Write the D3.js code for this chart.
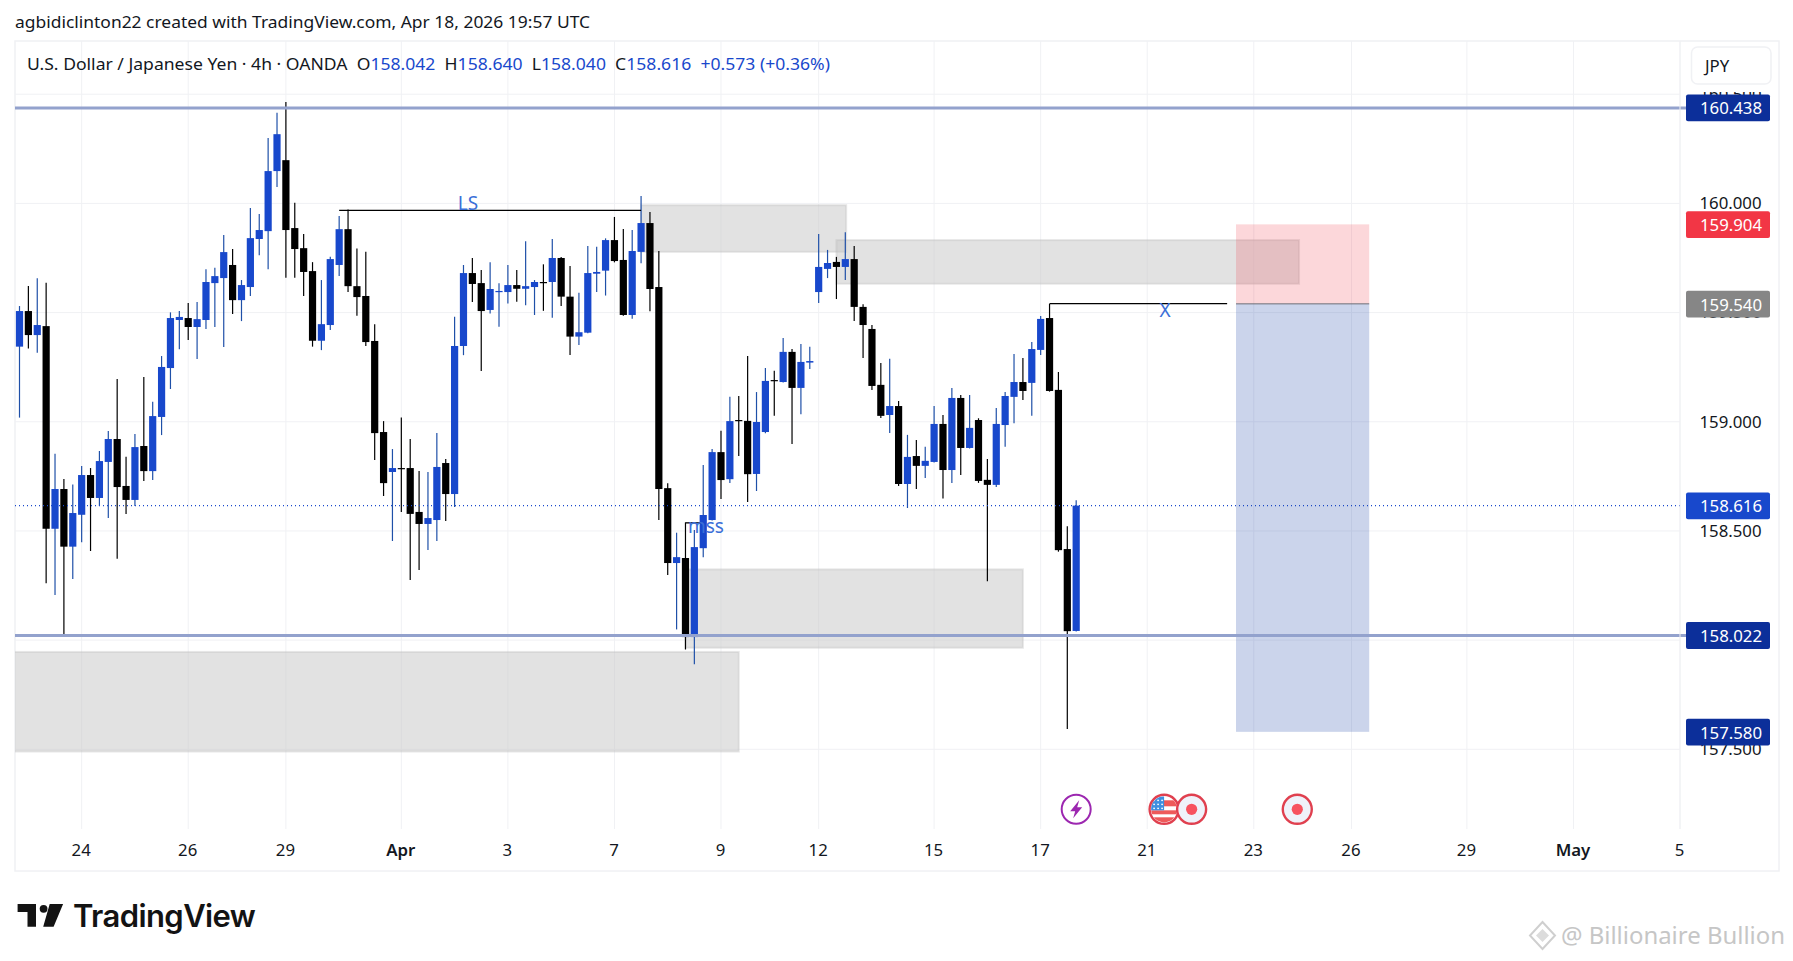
<!DOCTYPE html>
<html><head><meta charset="utf-8">
<script src="https://cdn.jsdelivr.net/npm/d3@7/dist/d3.min.js"></script>
<style>html,body{margin:0;padding:0;background:#fff;overflow:hidden}svg{display:block}text{font-family:"Noto Sans",sans-serif}</style>
</head><body><svg id="c" width="1793" height="961"></svg>
<script>
const opens=[159.344,159.507,159.397,159.438,158.510,158.692,158.428,158.574,158.756,158.651,158.816,158.921,158.706,158.642,158.889,158.774,159.022,159.246,159.466,159.475,159.434,159.466,159.635,159.658,159.718,159.557,159.617,159.837,159.873,160.148,160.198,159.887,159.795,159.690,159.371,159.443,159.718,159.882,159.621,159.576,159.370,158.953,158.770,158.788,158.788,158.587,158.532,158.550,158.811,158.669,159.347,159.681,159.635,159.512,159.594,159.594,159.626,159.609,159.617,159.640,159.640,159.750,159.573,159.390,159.408,159.678,159.692,159.832,159.741,159.489,159.778,159.910,159.617,158.696,158.353,158.376,158.014,158.421,158.550,158.861,158.737,159.008,159.004,158.761,158.953,159.191,159.182,159.320,159.155,159.271,159.594,159.700,159.732,159.709,159.745,159.526,159.425,159.169,159.031,159.072,158.715,158.843,158.798,158.816,158.990,158.779,159.109,158.880,159.008,158.734,158.711,158.985,159.114,159.182,159.178,159.329,159.475,159.146,158.417,158.042];
const highs=[159.530,159.622,159.657,159.637,158.854,158.738,158.713,158.797,158.788,158.866,158.958,159.196,158.840,158.944,159.205,159.092,159.301,159.501,159.507,159.544,159.548,159.699,159.705,159.855,159.791,159.649,159.979,159.951,160.299,160.415,160.464,160.003,159.860,159.731,159.649,159.756,159.942,159.972,159.794,159.779,159.447,159.003,158.875,159.019,158.921,158.774,158.770,158.948,158.829,159.481,159.718,159.750,159.695,159.731,159.634,159.718,159.695,159.827,159.649,159.721,159.837,159.755,159.713,159.591,159.805,159.802,159.840,159.938,159.883,159.878,160.034,159.961,159.782,158.718,158.492,158.539,158.504,158.802,158.875,158.959,159.115,159.118,159.301,159.136,159.246,159.234,159.384,159.333,159.356,159.344,159.860,159.787,159.755,159.868,159.805,159.538,159.443,159.269,159.288,159.095,158.940,158.917,158.886,159.072,159.031,159.155,159.123,159.123,159.016,158.830,159.063,159.136,159.310,159.292,159.365,159.484,159.540,159.228,158.522,158.640];
const lows=[159.019,159.335,159.316,158.260,158.207,158.023,158.280,158.448,158.408,158.614,158.559,158.373,158.578,158.614,158.729,158.733,158.939,159.150,159.332,159.374,159.287,159.425,159.434,159.342,159.493,159.461,159.576,159.763,159.699,160.075,159.660,159.660,159.576,159.344,159.328,159.420,159.667,159.594,159.486,159.347,158.825,158.660,158.454,158.587,158.275,158.321,158.413,158.454,158.545,158.610,159.305,159.548,159.232,159.496,159.435,159.542,159.550,159.534,159.489,159.508,159.476,159.530,159.306,159.352,159.405,159.594,159.578,159.730,159.486,159.472,159.726,159.506,158.550,158.298,158.049,157.957,157.890,158.380,158.548,158.646,158.719,158.843,158.632,158.683,158.947,159.027,159.180,158.898,159.034,159.242,159.544,159.658,159.562,159.649,159.462,159.292,159.146,159.017,158.949,158.706,158.605,158.692,158.743,158.813,158.648,158.720,158.756,158.877,158.720,158.270,158.701,158.885,158.993,159.100,159.027,159.306,159.138,158.405,157.593,158.040];
const closes=[159.507,159.397,159.443,158.510,158.692,158.428,158.582,158.756,158.651,158.820,158.921,158.701,158.642,158.884,158.774,159.026,159.251,159.475,159.480,159.434,159.470,159.640,159.667,159.777,159.557,159.626,159.841,159.878,160.148,160.317,159.878,159.791,159.686,159.371,159.447,159.745,159.882,159.621,159.571,159.365,158.948,158.719,158.788,158.784,158.578,158.532,158.559,158.793,158.669,159.347,159.681,159.631,159.507,159.608,159.599,159.626,159.609,159.621,159.640,159.635,159.750,159.573,159.390,159.410,159.681,159.686,159.832,159.736,159.489,159.782,159.910,159.608,158.692,158.353,158.380,158.014,158.426,158.573,158.861,158.733,159.003,159.005,158.760,158.999,159.187,159.187,159.320,159.155,159.274,159.278,159.709,159.727,159.709,159.745,159.526,159.443,159.164,159.027,159.072,158.715,158.839,158.798,158.821,158.990,158.779,159.109,158.880,158.972,158.729,158.711,158.990,159.118,159.182,159.141,159.333,159.471,159.141,158.412,158.041,158.616];
const axisPrices=[160.5,160,159.5,159,158.5,158,157.5];
const timeBars=[7,19,30,43,55,67,79,90,103,115,127,139,150,163,175,187];
const timeLabels=["24","26","29","Apr","3","7","9","12","15","17","21","23","26","29","May","5"];
const levels=[160.438,158.022];
const lastPrice=158.616;
const zones=[[-2,81,157.946,157.490],[75,113,158.324,157.965],[70,93.1,159.992,159.778],[92,144.1,159.832,159.632]];
const riskTop=159.904, entry=159.540, target=157.580, toolBars=[137,152];
const priceTags=[[160.438,"#0c2f9a"],[159.904,"#f23645"],[159.540,"#868686"],[158.616,"#1848cc"],[158.022,"#0c2f9a"],[157.580,"#0c2f9a"]];
const eventBars=[119,128.9,132,143.9];
const eventKinds=["bolt","us","dot","dot"];

const BLUE="#1848cc",TEXTBLUE="#3b6fd8",GRID="#f0f1f4";
const L=15,R=1680,T=41,B=829,FR=1779,FB=871;
const x=d3.scaleLinear().domain([0,187]).range([19.5,1680]);
const y=d3.scaleLinear().domain([160,157.5]).range([203.4,749.3]);
const svg=d3.select("#c");
const defs=svg.append("defs");
defs.append("clipPath").attr("id","plot").append("rect").attr("x",L).attr("y",T).attr("width",R-L).attr("height",B-T);
defs.append("clipPath").attr("id","raxis").append("rect").attr("x",R).attr("y",92).attr("width",100).attr("height",700);
defs.append("clipPath").attr("id","flag").append("circle").attr("r",13);
svg.append("rect").attr("x",L).attr("y",T).attr("width",FR-L).attr("height",FB-T).attr("fill","#fff").attr("stroke",GRID).attr("stroke-width",1.5);
svg.append("text").attr("x",15).attr("y",28).attr("font-size",16.6).attr("textLength",575).attr("lengthAdjust","spacingAndGlyphs").attr("fill","#131722").text("agbidiclinton22 created with TradingView.com, Apr 18, 2026 19:57 UTC");

// grid
const grid=svg.append("g");
grid.selectAll(".h").data(axisPrices).join("line").attr("x1",L).attr("x2",R).attr("y1",d=>y(d)).attr("y2",d=>y(d)).attr("stroke",GRID);
grid.selectAll(".v").data(timeBars).join("line").attr("x1",d=>x(d)).attr("x2",d=>x(d)).attr("y1",T).attr("y2",B).attr("stroke",GRID);

const p=svg.append("g").attr("clip-path","url(#plot)");
// horizontal levels (continue slightly past the plot)
svg.append("g").selectAll("line").data(levels).join("line").attr("x1",L).attr("x2",1686).attr("y1",d=>y(d)+.3).attr("y2",d=>y(d)+.3).attr("stroke","#93a2cd").attr("stroke-width",3);
// zones
p.selectAll(".zone").data(zones).join("rect").attr("x",d=>x(d[0])).attr("width",d=>x(d[1])-x(d[0])).attr("y",d=>y(d[2])).attr("height",d=>y(d[3])-y(d[2])).attr("fill","rgba(200,200,200,.52)").attr("stroke","rgba(190,190,190,.35)").attr("stroke-width",2);
// candles
const idx=d3.range(opens.length);
const col=i=>closes[i]>=opens[i]?BLUE:"#000";
p.selectAll(".w").data(idx).join("line").attr("x1",i=>x(i)).attr("x2",i=>x(i)).attr("y1",i=>y(highs[i])).attr("y2",i=>y(lows[i])).attr("stroke",i=>closes[i]>=opens[i]?"#1f50a8":"#000").attr("stroke-width",1.2);
p.selectAll(".b").data(idx).join("rect").attr("x",i=>x(i)-3.6).attr("width",7.2).attr("y",i=>y(Math.max(opens[i],closes[i]))).attr("height",i=>Math.max(1.2,Math.abs(y(opens[i])-y(closes[i])))).attr("fill",col);
// dotted price
p.append("line").attr("x1",L).attr("x2",R).attr("y1",y(lastPrice)).attr("y2",y(lastPrice)).attr("stroke",BLUE).attr("stroke-dasharray","1 3").attr("stroke-width",1.1);
// position tool
p.append("rect").attr("x",x(toolBars[0])).attr("width",x(toolBars[1])-x(toolBars[0])).attr("y",y(riskTop)).attr("height",y(entry)-y(riskTop)).attr("fill","rgba(242,54,69,.2)");
p.append("rect").attr("x",x(toolBars[0])).attr("width",x(toolBars[1])-x(toolBars[0])).attr("y",y(entry)).attr("height",y(target)-y(entry)).attr("fill","rgba(30,70,170,.23)");
p.append("line").attr("x1",x(toolBars[0])).attr("x2",x(toolBars[1])).attr("y1",y(entry)).attr("y2",y(entry)).attr("stroke","#6d6f78").attr("stroke-width",1);
// trend lines and labels
const seg=(a,b,v,w)=>p.append("line").attr("x1",x(a)).attr("x2",x(b)).attr("y1",y(v)).attr("y2",y(v)).attr("stroke","#000").attr("stroke-width",w);
seg(36,70,159.968,1.4);seg(116,136,159.541,1.4);seg(75,76.8,158.537,1.3);
const lab=(a,v,t,s)=>p.append("text").attr("x",x(a)).attr("y",y(v)).attr("text-anchor","middle").attr("dominant-baseline","middle").attr("font-size",s).attr("fill",TEXTBLUE).text(t);
lab(50.5,159.995,"LS",19);lab(129,159.502,"X",19);lab(77.3,158.512,"mss",19);

// axes
const ra=d3.axisRight(y).tickValues(axisPrices).tickSize(0).tickPadding(0).tickFormat(d3.format(".3f"));
const rg=svg.append("g").attr("transform","translate(1730.5,0)").call(ra);
rg.select(".domain").remove();
rg.selectAll("text").attr("x",0).attr("text-anchor","middle").attr("font-size",16.8).attr("fill","#131722").attr("font-family","Noto Sans");
const gw=svg.append("g").attr("clip-path","url(#raxis)");gw.node().appendChild(rg.node());
const ba=d3.axisBottom(x).tickValues(timeBars).tickSize(0).tickPadding(0).tickFormat((d,i)=>timeLabels[i]);
const bg=svg.append("g").attr("transform","translate(-1,844)").call(ba);
bg.select(".domain").remove();
bg.selectAll("text").attr("font-size",16.8).attr("fill","#131722").attr("font-family","Noto Sans").attr("font-weight",(d,i)=>/[A-Z]/.test(timeLabels[i])?600:400);
svg.append("line").attr("x1",R).attr("x2",R).attr("y1",T).attr("y2",B).attr("stroke",GRID);
// price tags
const tags=svg.append("g").selectAll("g").data(priceTags).join("g").attr("transform",d=>`translate(1686,${y(d[0])-13.2})`);
tags.append("rect").attr("width",84).attr("height",26.8).attr("rx",2).attr("fill",d=>d[1]);
tags.append("text").attr("x",45).attr("y",13.4).attr("text-anchor","middle").attr("dominant-baseline","central").attr("font-size",16.8).attr("fill","#fff").text(d=>d[0].toFixed(3));
// JPY
svg.append("rect").attr("x",1691.5).attr("y",47).attr("width",79.5).attr("height",37).attr("rx",6).attr("fill","#fff").attr("stroke","#f0f1f4").attr("stroke-width",1.5);
svg.append("text").attr("x",1705).attr("y",65.5).attr("dominant-baseline","central").attr("font-size",16.8).attr("fill","#131722").text("JPY");

// header legend
const h=svg.append("text").attr("x",27).attr("y",70).attr("font-size",16.6).attr("textLength",803).attr("lengthAdjust","spacingAndGlyphs").attr("fill","#131722").style("white-space","pre");
[["U.S. Dollar / Japanese Yen · 4h · OANDA",0],["  O",0],["158.042",1],["  H",0],["158.640",1],["  L",0],["158.040",1],["  C",0],["158.616",1],["  +0.573 (+0.36%)",1]].forEach(d=>h.append("tspan").style("white-space","pre").attr("fill",d[1]?BLUE:"#131722").text(d[0]));

// events
const ev=svg.append("g").selectAll("g").data(eventBars).join("g").attr("transform",d=>`translate(${x(d)},809.3)`);
ev.each(function(d,i){
  const g=d3.select(this),k=eventKinds[i];
  if(k==="bolt"){
    g.append("circle").attr("r",14.5).attr("fill","#fff").attr("stroke","#9c27b0").attr("stroke-width",2);
    g.append("path").attr("d","M3-9L-6 2H-1L-3 9L6-2H1Z").attr("fill","#9c27b0");
  } else if(k==="dot"){
    g.append("circle").attr("r",14.5).attr("fill","#eff2fa").attr("stroke","#e0404f").attr("stroke-width",2.4);
    g.append("circle").attr("r",5.6).attr("fill","#f7525f");
  } else {
    g.append("circle").attr("r",14.5).attr("fill","#fff").attr("stroke","#e0404f").attr("stroke-width",2.4);
    const f=g.append("g").attr("clip-path","url(#flag)");
    [[-9,6],[1,4],[8,6]].forEach(s=>f.append("rect").attr("x",-13).attr("y",s[0]).attr("width",26).attr("height",s[1]).attr("fill","#ee5a5a"));
    f.append("rect").attr("x",-13).attr("y",-13).attr("width",13).attr("height",14).attr("fill","#3f8fe0");
    for(let a=0;a<3;a++)for(let b=0;b<3;b++)f.append("circle").attr("cx",-10+b*4).attr("cy",-9+a*4).attr("r",.9).attr("fill","#fff");
  }
});

// TradingView logo
svg.append("path").attr("d","M17.6 904H36V926.7H27.5V912H17.6ZM49.7 904H63.1L53.6 926.7H43.2Z").attr("fill","#131313");
svg.append("circle").attr("cx",43.6).attr("cy",908.8).attr("r",3.9).attr("fill","#131313");
svg.append("text").attr("x",73).attr("y",926.7).attr("font-size",31).attr("font-weight",600).attr("letter-spacing",-.6).attr("fill","#131313").style("font-family","Inter").text("TradingView");

// watermark
const wm=svg.append("g").attr("fill","none").attr("stroke","#cfcfcf").attr("stroke-width",2);
wm.append("path").attr("d","M1542.5 922L1555 935.5L1542.5 949L1530 935.5Z");
wm.append("path").attr("d","M1542.5 929L1549 935.5L1542.5 942L1536 935.5Z").attr("fill","#dcdcdc").attr("stroke","none");
svg.append("text").attr("x",1561).attr("y",944).attr("font-size",24).attr("textLength",224).attr("lengthAdjust","spacingAndGlyphs").attr("fill","#c6c6c6").text("@ Billionaire Bullion");
</script></body></html>
